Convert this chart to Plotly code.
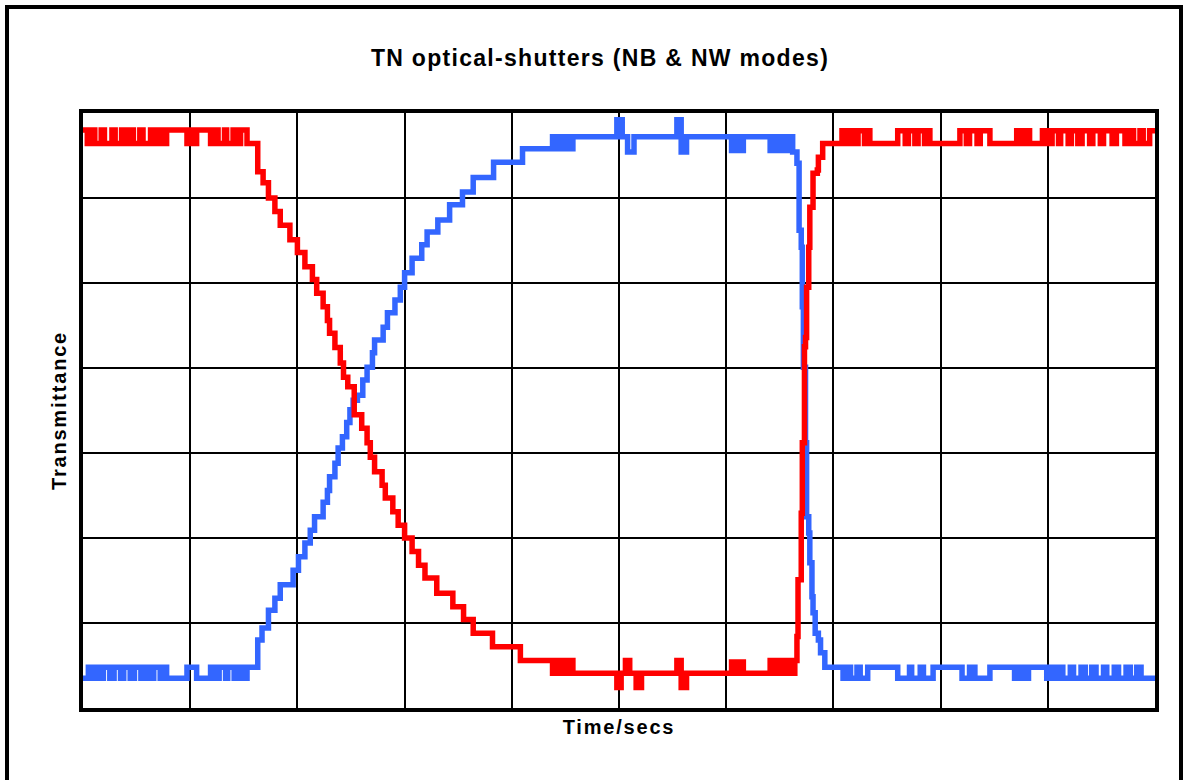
import plotly.graph_objects as go

# Time axis: 10 divisions; Transmittance axis: 7 divisions (arbitrary units)
red_t = [0.00, 0.04, 0.08, 0.11, 0.17, 0.20, 0.27, 0.30, 0.36, 0.39, 0.44, 0.47, 0.53, 0.56,
         0.63, 0.65, 0.70, 0.74, 0.78, 0.97, 1.02, 1.05, 1.06, 1.19, 1.22, 1.26, 1.32, 1.34,
         1.40, 1.43, 1.47, 1.53, 1.63, 1.68, 1.73, 1.79, 1.84, 1.93, 2.00, 2.07, 2.14, 2.18,
         2.24, 2.28, 2.30, 2.35, 2.40, 2.43, 2.47, 2.53, 2.60, 2.65, 2.68, 2.72, 2.79, 2.82,
         2.89, 2.94, 3.00, 3.07, 3.13, 3.19, 3.30, 3.45, 3.55, 3.64, 3.82, 4.08, 4.38, 4.41,
         4.44, 4.48, 4.51, 4.53, 4.57, 4.98, 5.02, 5.06, 5.10, 5.16, 5.21, 5.54, 5.58, 5.63,
         6.05, 6.10, 6.13, 6.16, 6.41, 6.46, 6.49, 6.53, 6.57, 6.60, 6.64, 6.66, 6.67, 6.67,
         6.70, 6.70, 6.71, 6.71, 6.73, 6.73, 6.74, 6.75, 6.77, 6.78, 6.81, 6.81, 6.85, 6.86,
         6.90, 7.08, 7.12, 7.15, 7.20, 7.23, 7.29, 7.30, 7.34, 7.60, 7.67, 7.70, 7.76, 7.79,
         7.85, 7.87, 7.90, 8.18, 8.24, 8.27, 8.34, 8.37, 8.46, 8.71, 8.76, 8.79, 8.83, 8.95,
         9.00, 9.04, 9.10, 9.12, 9.19, 9.22, 9.28, 9.32, 9.39, 9.42, 9.49, 9.52, 9.60, 9.64,
         9.72, 9.75, 9.80, 9.86, 9.89, 9.95, 10.00]
red_v = [6.80, 6.64, 6.80, 6.64, 6.80, 6.64, 6.80, 6.64, 6.80, 6.64, 6.80, 6.64, 6.80, 6.64,
         6.80, 6.64, 6.80, 6.64, 6.80, 6.64, 6.80, 6.64, 6.80, 6.64, 6.80, 6.64, 6.80, 6.64,
         6.80, 6.64, 6.80, 6.64, 6.31, 6.18, 6.00, 5.84, 5.68, 5.51, 5.36, 5.19, 5.04, 4.88,
         4.72, 4.56, 4.41, 4.24, 4.06, 3.89, 3.78, 3.45, 3.29, 3.12, 2.95, 2.78, 2.62, 2.47,
         2.31, 2.15, 2.00, 1.84, 1.68, 1.53, 1.35, 1.19, 1.04, 0.88, 0.72, 0.56, 0.41, 0.56,
         0.41, 0.56, 0.41, 0.56, 0.41, 0.24, 0.41, 0.56, 0.41, 0.24, 0.41, 0.56, 0.24, 0.41,
         0.54, 0.41, 0.54, 0.41, 0.56, 0.41, 0.56, 0.41, 0.56, 0.41, 0.56, 0.84, 1.07, 1.51,
         1.62, 2.29, 2.36, 3.12, 3.19, 4.25, 4.36, 4.95, 5.42, 5.89, 6.01, 6.29, 6.33, 6.48,
         6.64, 6.79, 6.64, 6.79, 6.64, 6.79, 6.64, 6.79, 6.64, 6.79, 6.64, 6.79, 6.64, 6.79,
         6.64, 6.79, 6.64, 6.79, 6.64, 6.79, 6.64, 6.79, 6.64, 6.79, 6.64, 6.79, 6.64, 6.79,
         6.64, 6.79, 6.64, 6.79, 6.64, 6.79, 6.64, 6.79, 6.64, 6.79, 6.64, 6.79, 6.64, 6.79,
         6.64, 6.79, 6.64, 6.79, 6.64, 6.79, 6.79]

blue_t = [0.00, 0.05, 0.08, 0.11, 0.16, 0.19, 0.25, 0.29, 0.35, 0.38, 0.44, 0.48, 0.54, 0.58,
          0.63, 0.66, 0.72, 0.75, 0.78, 0.97, 1.06, 1.19, 1.22, 1.27, 1.33, 1.35, 1.41, 1.44,
          1.49, 1.53, 1.63, 1.67, 1.73, 1.79, 1.84, 1.96, 2.01, 2.07, 2.12, 2.16, 2.24, 2.28,
          2.30, 2.35, 2.38, 2.42, 2.46, 2.49, 2.52, 2.56, 2.61, 2.65, 2.70, 2.72, 2.80, 2.84,
          2.91, 2.96, 3.00, 3.07, 3.16, 3.21, 3.31, 3.42, 3.54, 3.64, 3.83, 4.10, 4.38, 4.41,
          4.44, 4.48, 4.51, 4.53, 4.57, 4.98, 5.03, 5.08, 5.14, 5.54, 5.58, 5.63, 6.05, 6.10,
          6.13, 6.16, 6.41, 6.46, 6.49, 6.53, 6.57, 6.60, 6.62, 6.66, 6.68, 6.68, 6.68, 6.70,
          6.71, 6.71, 6.72, 6.72, 6.74, 6.75, 6.75, 6.77, 6.78, 6.80, 6.81, 6.83, 6.86, 6.88,
          6.92, 7.09, 7.14, 7.16, 7.22, 7.25, 7.32, 7.60, 7.71, 7.73, 7.81, 7.84, 7.93, 8.20,
          8.27, 8.32, 8.46, 8.69, 8.73, 8.77, 8.82, 8.99, 9.03, 9.07, 9.11, 9.14, 9.21, 9.24,
          9.31, 9.35, 9.41, 9.45, 9.52, 9.55, 9.62, 9.66, 9.73, 9.77, 9.83, 9.87, 10.00]
blue_v = [0.35, 0.48, 0.35, 0.48, 0.35, 0.48, 0.35, 0.48, 0.35, 0.48, 0.35, 0.48, 0.35, 0.48,
          0.35, 0.48, 0.35, 0.48, 0.35, 0.48, 0.35, 0.48, 0.35, 0.48, 0.35, 0.48, 0.35, 0.48,
          0.35, 0.48, 0.80, 0.94, 1.15, 1.29, 1.45, 1.62, 1.78, 1.94, 2.09, 2.25, 2.42, 2.56,
          2.72, 2.88, 3.06, 3.19, 3.36, 3.51, 3.62, 3.68, 3.86, 4.01, 4.18, 4.33, 4.48, 4.65,
          4.80, 4.95, 5.12, 5.29, 5.45, 5.60, 5.74, 5.92, 6.07, 6.24, 6.42, 6.58, 6.72, 6.58,
          6.72, 6.58, 6.72, 6.58, 6.72, 6.92, 6.72, 6.54, 6.72, 6.92, 6.54, 6.72, 6.56, 6.72,
          6.56, 6.72, 6.56, 6.72, 6.56, 6.72, 6.56, 6.72, 6.54, 6.41, 6.25, 6.01, 5.62, 5.42,
          5.00, 4.72, 4.36, 4.01, 3.12, 2.72, 2.25, 2.06, 1.71, 1.31, 1.12, 0.88, 0.80, 0.65,
          0.48, 0.35, 0.48, 0.35, 0.48, 0.35, 0.48, 0.35, 0.48, 0.35, 0.48, 0.35, 0.48, 0.35,
          0.48, 0.35, 0.48, 0.35, 0.48, 0.35, 0.48, 0.35, 0.48, 0.35, 0.48, 0.35, 0.48, 0.35,
          0.48, 0.35, 0.48, 0.35, 0.48, 0.35, 0.48, 0.35, 0.48, 0.35, 0.48, 0.35, 0.35]

title_text = "TN optical-shutters (NB & NW modes)"
x_title = "Time/secs"
y_title = "Transmittance"

FONT = "Liberation Sans, Arial, sans-serif"

fig = go.Figure()
fig.add_trace(go.Scatter(x=blue_t, y=blue_v, mode="lines", line_shape="hv",
                         line=dict(color="#3366FF", width=5.5), name="NB", showlegend=False))
fig.add_trace(go.Scatter(x=red_t, y=red_v, mode="lines", line_shape="hv",
                         line=dict(color="#FF0000", width=5.5), name="NW", showlegend=False))

axis_common = dict(showticklabels=False, ticks="", showline=True, linecolor="black",
                   linewidth=4, mirror=True, showgrid=True, gridcolor="black",
                   gridwidth=2, zeroline=False, fixedrange=True)

fig.update_xaxes(range=[0, 10], dtick=1, tick0=0,
                 title=dict(text=f"<b>{x_title}</b>", font=dict(size=20, color="black", family=FONT),
                            standoff=10),
                 **axis_common)
fig.update_yaxes(range=[0, 7], dtick=1, tick0=0,
                 title=dict(text=f"<b>{y_title}</b>", font=dict(size=20, color="black", family=FONT),
                            standoff=8),
                 **axis_common)

fig.update_layout(
    width=1184, height=780,
    margin=dict(l=83, r=29, t=113, b=72, autoexpand=False),
    paper_bgcolor="white", plot_bgcolor="white",
    font=dict(family=FONT, color="black"),
    title=dict(text=f"<b>{title_text}</b>", font=dict(size=23, color="black", family=FONT),
               x=600 / 1184, xanchor="center", y=1 - 58 / 780, yanchor="middle",
               xref="container", yref="container"),
)

# outer frame of the figure
fig.add_shape(type="rect", xref="paper", yref="paper",
              x0=(7 - 83) / 1072, x1=(1181 - 83) / 1072,
              y0=(708 - 800) / 595, y1=(708 - 7) / 595,
              line=dict(color="black", width=4), fillcolor="rgba(0,0,0,0)", layer="above")

# the reference lettering is slightly tracked (wider letter spacing)
spacing_js = """
var gd = document.getElementById('{plot_id}');
gd.querySelectorAll('.gtitle').forEach(function(e){ e.style.letterSpacing = '1.3px'; });
gd.querySelectorAll('.xtitle, .ytitle').forEach(function(e){ e.style.letterSpacing = '1.8px'; });
"""

fig.write_html("out.html", config={"displayModeBar": False}, post_script=spacing_js)
